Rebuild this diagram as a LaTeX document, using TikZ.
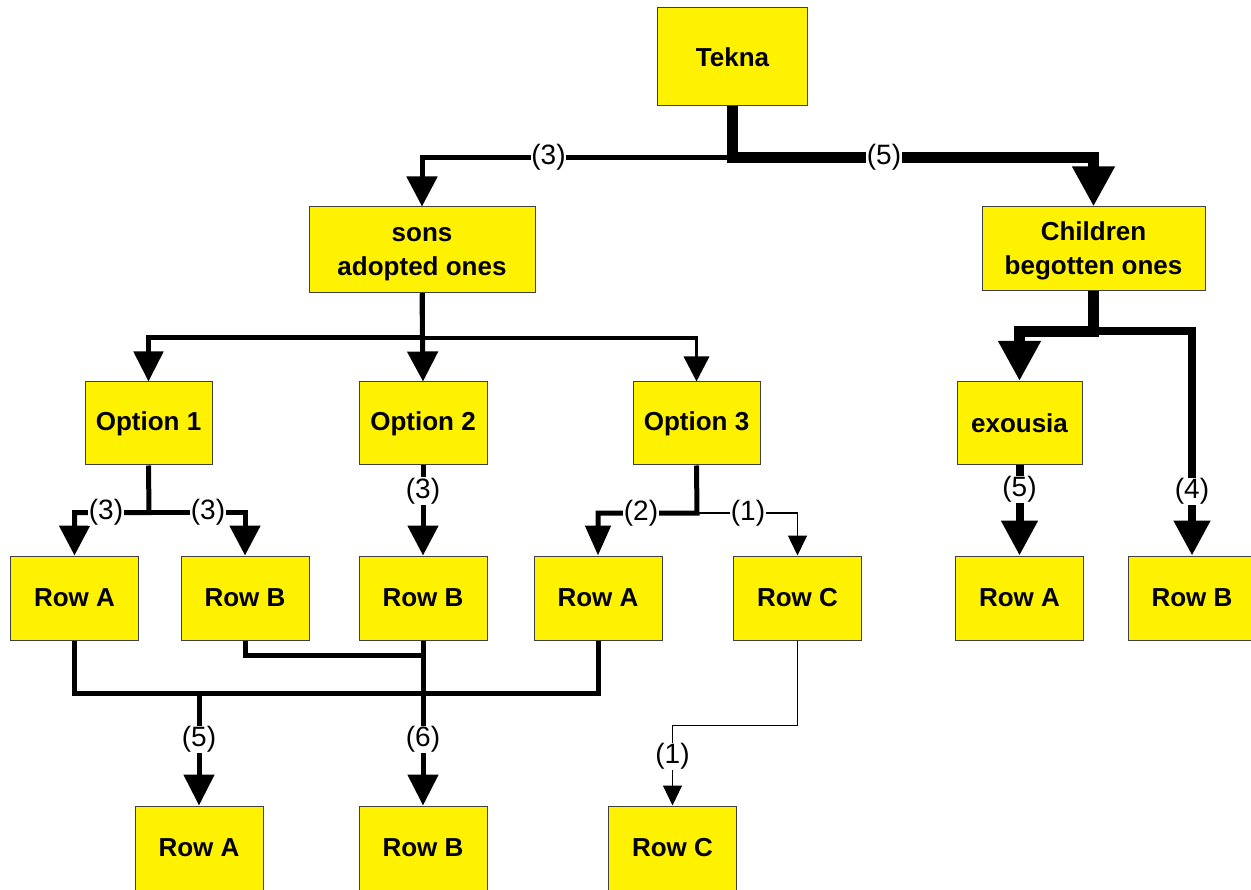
\documentclass[tikz,border=0pt]{standalone}
\usepackage{fontspec}
\setmainfont{Liberation Sans}
\usetikzlibrary{arrows.meta}
\begin{document}
\begin{tikzpicture}[x=1pt,y=-1pt,
  box/.style={draw=black!75, line width=1pt, fill=yellow, inner sep=0pt,
    align=center, font=\bfseries\fontsize{26}{34}\selectfont},
  cell/.style={box, minimum width=128pt, minimum height=84pt},
  lbl/.style={fill=white, inner sep=0.5pt, font=\fontsize{28}{30}\selectfont},
  headsz/.style 2 args={-{Triangle[length=#1pt,width=#2pt]}},
  lw1/.style={line width=1pt},
  lw15/.style={line width=1.5pt},
  lw3/.style={line width=3.5pt},
  lw5/.style={line width=5pt},
  lw8/.style={line width=8pt},
  lw10/.style={line width=10.5pt}]
\useasboundingbox (0,0) rectangle (1251,890);

% boxes
\node[box, minimum width=150pt, minimum height=98pt] (tekna) at (732.5,57) {Tekna};
\node[box, minimum width=226pt, minimum height=86pt] (sons) at (422,250) {\rule{0pt}{22pt}sons\\adopted ones};
\node[box, minimum width=223pt, minimum height=84pt] (children) at (1093.5,249) {\rule{0pt}{22pt}Children\\begotten ones};
\node[cell, minimum width=127pt, minimum height=83pt] (opt1) at (148.5,423.5) {Option 1};
\node[cell, minimum height=83pt] (opt2) at (423,423.5) {Option 2};
\node[cell, minimum width=127pt, minimum height=83pt] (opt3) at (696.5,423.5) {Option 3};
\node[cell, minimum width=125pt, minimum height=83pt] (exousia) at (1019.5,423) {exousia};
\node[cell] (r1a) at (74.5,598) {Row A};
\node[cell] (r1b) at (245,598) {Row B};
\node[cell] (r2b) at (423,598) {Row B};
\node[cell] (r3a) at (598,598) {Row A};
\node[cell] (r3c) at (797.5,598) {Row C};
\node[cell] (exa) at (1019.5,598) {Row A};
\node[cell] (exb) at (1192,598) {Row B};
\node[cell] (fa) at (199,848) {Row A};
\node[cell] (fb) at (423,848) {Row B};
\node[cell] (fc) at (672.5,848) {Row C};

% junction points
\coordinate (j1) at (732.5,157.5);
\coordinate (j2) at (422,338);
\coordinate (j3) at (149,512.5);
\coordinate (j4) at (697,513);
\coordinate (j5) at (1093.5,331.5);
\coordinate (j6) at (199,693.5);
\coordinate (j7) at (423,655.5);
\coordinate (j8) at (672.5,725);

% Tekna branches
\draw[lw5, headsz={30}{30}] (tekna.south) -- (j1) -| (sons.north);
\draw[lw10, headsz={40}{40}] (tekna.south) -- (j1) -| (children.north);

% sons branches
\draw[lw5, headsz={30}{29}] (sons.south) -- (j2) -| (opt1.north);
\draw[lw5, headsz={30}{30}] (sons.south) -- (opt2.north);
\draw[lw3, headsz={25}{25}] (j2) -| (opt3.north);

% Children branches
\draw[lw8, headsz={35}{35}] (children.south) -- (j5) -| (exb.north);
\draw[lw10, headsz={40}{40}] (children.south) -- (j5) -| (exousia.north);
\draw[lw8, headsz={35}{35}] (exousia.south) -- (exa.north);

% options to rows
\draw[lw5, headsz={30}{30}] (opt1.south) -- (j3) -| (r1a.north);
\draw[lw5, headsz={30}{30}] (j3) -| (r1b.north);
\draw[lw5, headsz={30}{30}] (opt2.south) -- (r2b.north);
\draw[lw5, headsz={30}{25}] (opt3.south) -- (j4) -| (r3a.north);
\draw[lw15, headsz={20}{19}] (j4) -| (r3c.north);

% rows merging into the bottom row
\draw[lw5] (r1a.south) |- (j6) -| (r3a.south);
\draw[lw5, headsz={31}{30}] (j6) -- (fa.north);
\draw[lw5] (r1b.south) |- (j7);
\draw[lw5, headsz={31}{30}] (r2b.south) -- (fb.north);
\draw[lw1, headsz={20}{19}] (r3c.south) |- (j8) -- (fc.north);

% weights
\node[lbl] (w1) at (548.5,157.5) {(3)};
\node[lbl] (w2) at (884,157.5) {(5)};
\node[lbl] (w3) at (106,512.5) {(3)};
\node[lbl] (w4) at (208,512.5) {(3)};
\node[lbl] (w5) at (423,491) {(3)};
\node[lbl] (w6) at (641,513) {(2)};
\node[lbl] (w7) at (748,513) {(1)};
\node[lbl] (w8) at (1019.5,489.5) {(5)};
\node[lbl] (w9) at (1192,491.5) {(4)};
\node[lbl] (w10) at (199,739.5) {(5)};
\node[lbl] (w11) at (423,739.5) {(6)};
\node[lbl] (w12) at (672.5,756.5) {(1)};
\end{tikzpicture}
\end{document}
